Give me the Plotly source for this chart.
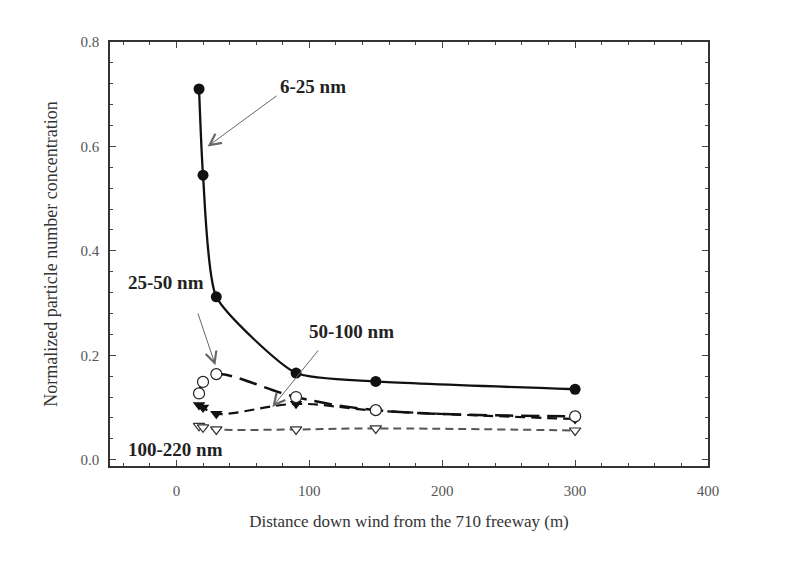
import plotly.graph_objects as go

# Data
x_625 = [17, 20, 30, 90, 150, 300]
y_625 = [0.710, 0.545, 0.312, 0.166, 0.150, 0.135]

x_2550 = [17, 20, 30, 90, 150, 300]
y_2550 = [0.127, 0.149, 0.164, 0.120, 0.095, 0.083]

x_50100 = [17, 20, 30, 90, 150, 300]
y_50100 = [0.105, 0.100, 0.088, 0.107, 0.094, 0.078]

x_100220 = [17, 20, 30, 90, 150, 300]
y_100220 = [0.065, 0.062, 0.058, 0.058, 0.060, 0.056]

x_ticks = [0, 100, 200, 300, 400]
y_ticks = [0.0, 0.2, 0.4, 0.6, 0.8]

fig = go.Figure()

fig.add_trace(go.Scatter(
    x=x_100220, y=y_100220, mode="lines+markers",
    line=dict(color="#555555", width=2, dash="8px,5px", shape="spline"),
    marker=dict(symbol="triangle-down", size=10, color="white",
                line=dict(width=1.2, color="#333333")),
    showlegend=False))
fig.add_trace(go.Scatter(
    x=x_50100, y=y_50100, mode="lines+markers",
    line=dict(color="#111111", width=2.2, dash="10px,6px", shape="spline"),
    marker=dict(symbol="triangle-down", size=11, color="#111111"),
    showlegend=False))
fig.add_trace(go.Scatter(
    x=x_2550, y=y_2550, mode="lines+markers",
    line=dict(color="#111111", width=2.5, dash="18px,8px", shape="spline"),
    marker=dict(symbol="circle", size=11, color="white",
                line=dict(width=1.2, color="#222222")),
    showlegend=False))
fig.add_trace(go.Scatter(
    x=x_625, y=y_625, mode="lines+markers",
    line=dict(color="#111111", width=2.3, shape="spline", smoothing=0.55),
    marker=dict(symbol="circle", size=11, color="#111111"),
    showlegend=False))

lab_font = dict(family="Liberation Serif", size=19, color="#222222")
texts = [
    ("<b>6-25 nm</b>", 103, 0.714),
    ("<b>25-50 nm</b>", -7.5, 0.340),
    ("<b>50-100 nm</b>", 132, 0.246),
    ("<b>100-220 nm</b>", -0.5, 0.019),
]
for t, xx, yy in texts:
    fig.add_annotation(x=xx, y=yy, text=t, showarrow=False, font=lab_font)

arrows = [
    (23.5, 0.600, 76.5, 0.699),
    (29.3, 0.181, 15.8, 0.283),
    (72.2, 0.101, 107.5, 0.212),
]
for hx, hy, tx, ty in arrows:
    fig.add_annotation(x=hx, y=hy, ax=tx, ay=ty, axref="x", ayref="y",
                       text="", showarrow=True, arrowhead=5, arrowsize=2.2,
                       arrowwidth=1, arrowcolor="#666666")

axis_common = dict(
    showline=True, linecolor="#333333", linewidth=1.5, mirror="allticks",
    ticks="inside", ticklen=6, tickcolor="#444444", showgrid=False, zeroline=False,
    tickfont=dict(family="Liberation Serif", size=15, color="#555555"),
)

fig.update_xaxes(
    range=[-50, 400], tickvals=x_ticks, ticktext=[str(v) for v in x_ticks],
    minor=dict(dtick=20, tick0=0, ticks="inside", ticklen=3, tickcolor="#444444"),
    title=dict(text="Distance down wind from the 710 freeway (m)",
               font=dict(family="Liberation Serif", size=17, color="#333333"), standoff=17),
    ticklabelstandoff=10, **axis_common)
fig.update_yaxes(
    range=[-0.012, 0.8], tickvals=y_ticks, ticktext=[f"{v:.1f}" for v in y_ticks],
    minor=dict(dtick=0.04, tick0=0, ticks="inside", ticklen=3, tickcolor="#444444"),
    title=dict(text="Normalized particle number concentration",
               font=dict(family="Liberation Serif", size=18, color="#333333"), standoff=18),
    ticklabelstandoff=6, **axis_common)

fig.update_layout(
    width=796, height=571,
    margin=dict(l=110, r=88, t=42, b=105),
    paper_bgcolor="white", plot_bgcolor="white",
)

fig.write_html("out.html")
